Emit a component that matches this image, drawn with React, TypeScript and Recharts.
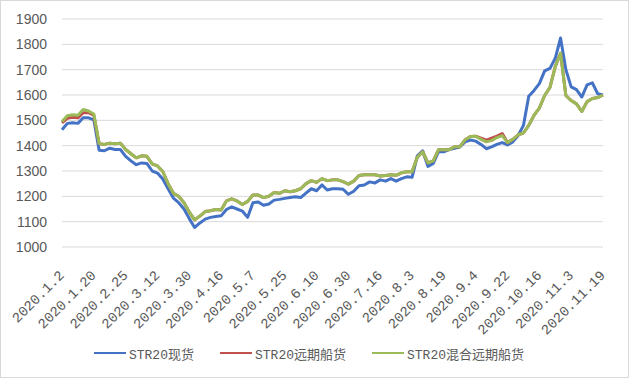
import { LineChart, Line, XAxis, YAxis, CartesianGrid, Legend } from 'recharts';

// tick labels shown on the x axis (one every 6 points)
const tickLabels = [
  '2020.1.2', '2020.1.20', '2020.2.25', '2020.3.12', '2020.3.30', '2020.4.16',
  '2020.5.7', '2020.5.25', '2020.6.10', '2020.6.30', '2020.7.16', '2020.8.3',
  '2020.8.19', '2020.9.4', '2020.9.22', '2020.10.16', '2020.11.3', '2020.11.19',
];
const STEP = 6;

const spot = [
  1463, 1488, 1490, 1488, 1510, 1510, 1502, 1382, 1380, 1390,
  1385, 1385, 1358, 1340, 1325, 1332, 1330, 1300, 1292, 1268,
  1230, 1193, 1175, 1150, 1112, 1077, 1095, 1110, 1117, 1120,
  1123, 1148, 1158, 1150, 1142, 1117, 1175, 1178, 1165, 1170,
  1185, 1188, 1192, 1195, 1198, 1195, 1213, 1230, 1222, 1245,
  1225, 1230, 1230, 1228, 1208, 1220, 1242, 1245, 1257, 1253,
  1265, 1260, 1270, 1260, 1270, 1277, 1275, 1360, 1380, 1318,
  1330, 1376, 1376, 1385, 1390, 1395, 1415, 1422, 1418, 1405,
  1388, 1395, 1405, 1412, 1403, 1415, 1440, 1480, 1595, 1618,
  1645, 1695, 1705, 1745, 1825, 1700, 1632, 1621, 1592, 1640,
  1648, 1605, 1600,
];

const forward = [
  1490, 1508, 1512, 1510, 1530, 1530, 1520, 1408, 1405, 1410,
  1408, 1410, 1385, 1368, 1352, 1360, 1358, 1328, 1320, 1298,
  1250, 1212, 1200, 1175, 1138, 1107, 1122, 1140, 1143, 1148,
  1146, 1182, 1190, 1182, 1168, 1180, 1205, 1205, 1195, 1200,
  1215, 1212, 1222, 1218, 1222, 1230, 1250, 1262, 1255, 1270,
  1262, 1265, 1265, 1258, 1248, 1260, 1282, 1285, 1285, 1285,
  1280, 1282, 1285, 1283, 1293, 1297, 1297, 1355, 1376, 1332,
  1340, 1384, 1384, 1384, 1396, 1396, 1423, 1436, 1437, 1430,
  1422, 1430, 1438, 1448, 1412, 1425, 1443, 1450, 1480, 1520,
  1548, 1598, 1630, 1712, 1765, 1598, 1578, 1565, 1535, 1574,
  1586, 1590, 1600,
];

const mixed = [
  1495, 1518, 1522, 1520, 1543, 1537, 1525, 1408, 1405, 1410,
  1408, 1410, 1385, 1368, 1352, 1360, 1358, 1328, 1320, 1298,
  1250, 1212, 1200, 1175, 1138, 1107, 1122, 1140, 1143, 1148,
  1146, 1182, 1190, 1182, 1168, 1180, 1205, 1205, 1195, 1200,
  1215, 1212, 1222, 1218, 1222, 1230, 1250, 1262, 1255, 1270,
  1262, 1265, 1265, 1258, 1248, 1260, 1282, 1285, 1285, 1285,
  1280, 1282, 1285, 1283, 1293, 1297, 1297, 1355, 1376, 1332,
  1340, 1384, 1384, 1384, 1396, 1396, 1423, 1436, 1437, 1425,
  1415, 1420, 1432, 1440, 1412, 1425, 1443, 1450, 1480, 1520,
  1548, 1598, 1630, 1712, 1765, 1598, 1578, 1565, 1535, 1574,
  1586, 1590, 1600,
];

const yTicks = [1000, 1100, 1200, 1300, 1400, 1500, 1600, 1700, 1800, 1900];

const series = [
  { key: 'spot', name: 'STR20现货', color: '#4472C4' },
  { key: 'forward', name: 'STR20远期船货', color: '#C0504D' },
  { key: 'mixed', name: 'STR20混合远期船货', color: '#9BBB59' },
];

const data = spot.map((v, i) => ({ idx: i, spot: v, forward: forward[i], mixed: mixed[i] }));

const MONO = '"Liberation Mono", "Noto Sans CJK SC", monospace';

const DateTick = ({ x, y, payload }: any) => (
  <g transform={`translate(${x + 3},${y + 21})`}>
    <text x={0} y={0} textAnchor="end" transform="rotate(-45)" fill="#595959" fontSize={14} fontFamily={MONO}>
      {tickLabels[Math.round(payload.value / STEP)]}
    </text>
  </g>
);

const renderLegend = () => (
  <div style={{ display: 'flex', justifyContent: 'center', alignItems: 'center', height: 24, paddingLeft: 14, fontFamily: MONO, fontSize: 13, color: '#595959' }}>
    {series.map((s) => (
      <span key={s.key} style={{ display: 'flex', alignItems: 'center', margin: '0 13px' }}>
        <span style={{ display: 'inline-block', width: 32, height: 2, background: s.color, marginRight: 3 }} />
        {s.name}
      </span>
    ))}
  </div>
);

export default function App() {
  return (
    <div style={{ position: 'absolute', left: 0, top: 0, width: 629, height: 378, boxSizing: 'border-box', border: '1px solid #d9d9d9', background: '#fff' }}>
      <LineChart width={627} height={376} data={data} margin={{ top: 18, right: 25, left: 0, bottom: 12 }}>
        <CartesianGrid vertical={false} stroke="#d9d9d9" strokeWidth={1} />
        <XAxis
          dataKey="idx"
          interval={STEP - 1}
          axisLine={false}
          tickLine={false}
          height={94}
          tick={<DateTick />}
        />
        <YAxis
          domain={[1000, 1900]}
          ticks={yTicks}
          axisLine={false}
          tickLine={false}
          width={61}
          tickMargin={9}
          tick={{ fill: '#595959', fontSize: 14, fontFamily: '"Liberation Sans", Arial, sans-serif' }}
        />
        <Legend verticalAlign="bottom" content={renderLegend} />
        {series.map((s) => (
          <Line
            key={s.key}
            dataKey={s.key}
            name={s.name}
            stroke={s.color}
            strokeWidth={3}
            dot={false}
            type="linear"
            strokeLinejoin="round"
            isAnimationActive={false}
          />
        ))}
      </LineChart>
    </div>
  );
}
